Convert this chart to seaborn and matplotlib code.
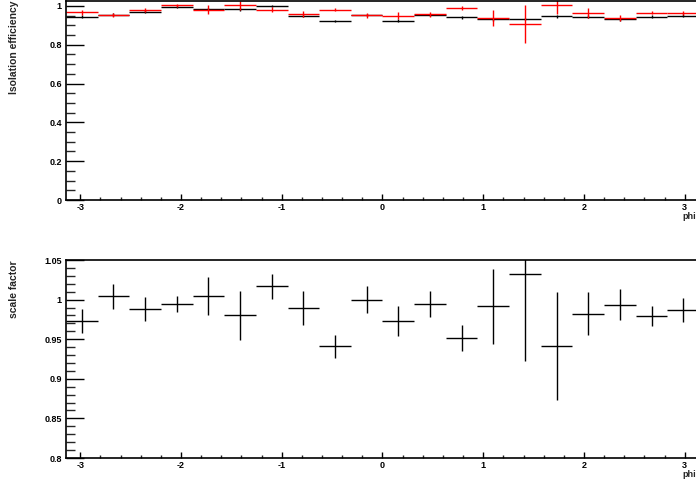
import numpy as np
import pandas as pd
import matplotlib
matplotlib.use("Agg")
import matplotlib.pyplot as plt
import seaborn as sns
from matplotlib.ticker import MultipleLocator, FuncFormatter

# --- DATA (20 phi bins from -pi to pi) ---
n_bins = 20
eff_black = [0.945, 0.955, 0.969, 0.996, 0.986, 0.983, 0.998, 0.948, 0.921, 0.951,
             0.924, 0.952, 0.941, 0.930, 0.933, 0.947, 0.945, 0.930, 0.944, 0.950]
err_black = [0.010, 0.006, 0.008, 0.005, 0.005, 0.007, 0.005, 0.007, 0.005, 0.005,
             0.006, 0.006, 0.008, 0.006, 0.006, 0.007, 0.007, 0.008, 0.007, 0.007]
eff_red = [0.967, 0.951, 0.978, 1.002, 0.981, 1.003, 0.981, 0.958, 0.981, 0.951,
           0.950, 0.957, 0.989, 0.938, 0.906, 1.005, 0.962, 0.936, 0.964, 0.962]
err_red = [0.012, 0.010, 0.012, 0.006, 0.022, 0.024, 0.012, 0.016, 0.010, 0.014,
           0.016, 0.012, 0.010, 0.042, 0.096, 0.049, 0.025, 0.016, 0.008, 0.010]

scale_factor = [0.973, 1.004, 0.988, 0.9945, 1.005, 0.980, 1.017, 0.990, 0.941, 1.000,
                0.973, 0.9945, 0.9515, 0.9915, 1.032, 0.941, 0.982, 0.9937, 0.979, 0.9865]
sf_err = [0.015, 0.016, 0.015, 0.010, 0.024, 0.031, 0.0156, 0.0215, 0.0143, 0.0173,
          0.019, 0.0165, 0.0165, 0.047, 0.110, 0.068, 0.027, 0.020, 0.0127, 0.015]

x_ticks = [-3, -2, -1, 0, 1, 2, 3]

edges = np.linspace(-np.pi, np.pi, n_bins + 1)
df = pd.DataFrame({
    "phi": 0.5 * (edges[:-1] + edges[1:]),
    "halfw": 0.5 * np.diff(edges),
    "eff_black": eff_black, "err_black": err_black,
    "eff_red": eff_red, "err_red": err_red,
    "sf": scale_factor, "sf_err": sf_err,
})

sns.set_theme(style="ticks")
plt.rcParams["font.family"] = ["Liberation Sans", "DejaVu Sans"]
plt.rcParams["font.weight"] = "bold"

fig = plt.figure(figsize=(6.96, 4.8), dpi=100)
fig.patch.set_facecolor("white")
ax1 = fig.add_axes([0.0948, 0.5833, 0.9095, 0.415])
ax2 = fig.add_axes([0.0948, 0.0458, 0.9095, 0.4125])


def fmt(v, pos):
    return "%g" % round(v, 3)


def style_axis(ax, major_y, minor_y):
    for s in ax.spines.values():
        s.set_linewidth(1.2)
        s.set_color("black")
    ax.set_facecolor("white")
    ax.set_xlim(-np.pi, np.pi)
    ax.set_xticks(x_ticks)
    ax.xaxis.set_minor_locator(MultipleLocator(0.2))
    ax.yaxis.set_major_locator(MultipleLocator(major_y))
    ax.yaxis.set_minor_locator(MultipleLocator(minor_y))
    ax.yaxis.set_major_formatter(FuncFormatter(fmt))
    ax.xaxis.set_major_formatter(FuncFormatter(fmt))
    ax.tick_params(axis="x", which="major", direction="in", length=4.3, width=1,
                   labelsize=6.5, pad=2, colors="black")
    ax.tick_params(axis="x", which="minor", direction="in", length=2.2, width=1)
    ax.tick_params(axis="y", which="major", direction="in", length=13, width=1,
                   labelsize=6.5, pad=3, colors="black")
    ax.tick_params(axis="y", which="minor", direction="in", length=6.5, width=1)
    for lab in ax.get_xticklabels() + ax.get_yticklabels():
        lab.set_fontweight("bold")
    ax.grid(False)


# --- TOP: isolation efficiency ---
ax1.errorbar(df["phi"], df["eff_black"], xerr=df["halfw"], yerr=df["err_black"],
             fmt="none", ecolor="black", elinewidth=1, capsize=0)
ax1.errorbar(df["phi"], df["eff_red"], xerr=df["halfw"], yerr=df["err_red"],
             fmt="none", ecolor="#ff0000", elinewidth=1, capsize=0)
ax1.set_ylim(0, 1.026)
style_axis(ax1, 0.2, 0.05)
ax1.set_ylabel("Isolation efficiency", fontsize=7.5, fontweight="bold", loc="top")
ax1.yaxis.set_label_coords(-0.074, 1.0)
ax1.set_xlabel("phi", fontsize=6.5, fontweight="bold", loc="right")
ax1.xaxis.set_label_coords(0.995, -0.06)

# --- BOTTOM: scale factor ---
ax2.errorbar(df["phi"], df["sf"], xerr=df["halfw"], yerr=df["sf_err"],
             fmt="none", ecolor="black", elinewidth=1, capsize=0)
ax2.set_ylim(0.8, 1.05)
style_axis(ax2, 0.05, 0.01)
ax2.set_ylabel("scale factor", fontsize=7.5, fontweight="bold", loc="top")
ax2.yaxis.set_label_coords(-0.074, 1.0)
ax2.set_xlabel("phi", fontsize=6.5, fontweight="bold", loc="right")
ax2.xaxis.set_label_coords(0.995, -0.06)

fig.savefig("out.png", dpi=100, facecolor="white")
